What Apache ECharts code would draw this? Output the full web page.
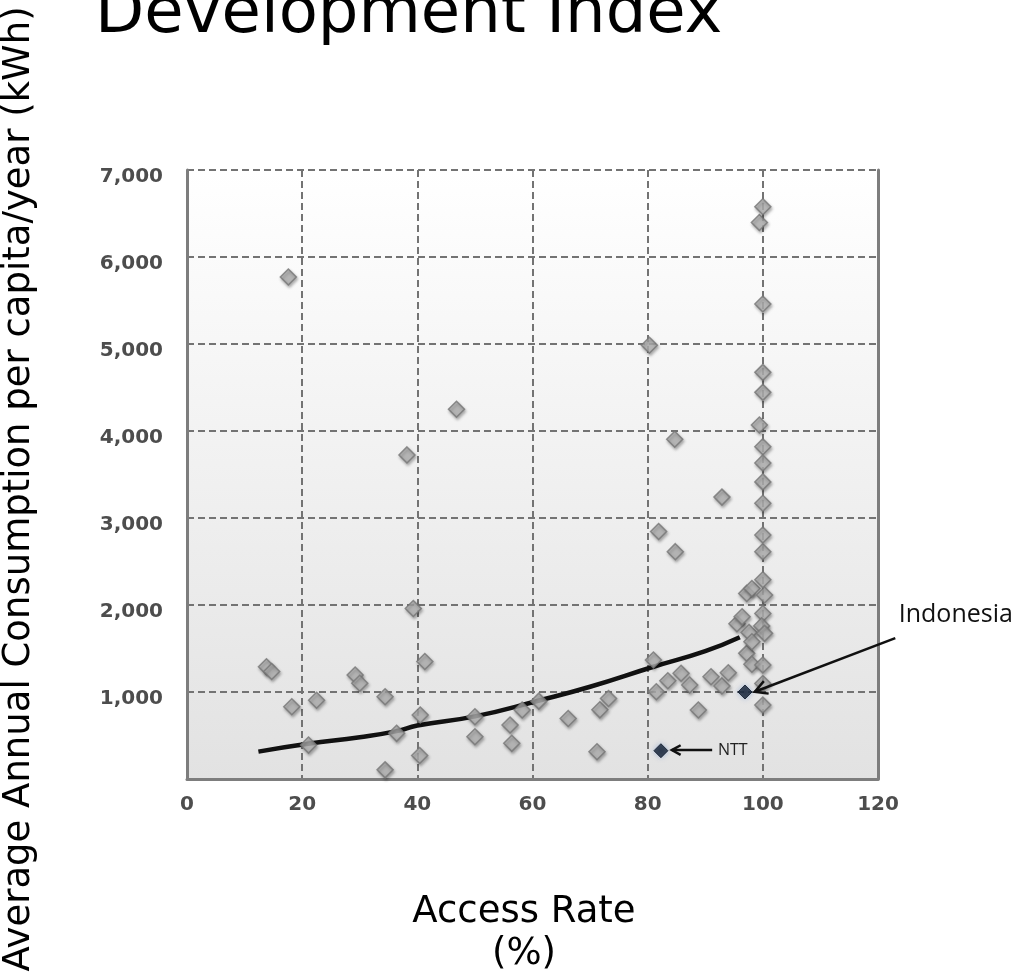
<!DOCTYPE html>
<html>
<head>
<meta charset="utf-8">
<script src="https://cdn.jsdelivr.net/npm/echarts@6/dist/echarts.min.js"></script>
<style>
html,body{margin:0;padding:0;background:#fff;}
#chart{width:1021px;height:977px;}
</style>
</head>
<body>
<div id="chart"></div>
<script>
// ---- data ----
const titleText = 'Development Index';
const xAxisTitle = 'Access Rate\n(%)';
const yAxisTitle = 'Average Annual Consumption per capita/year (kWh)';
const xTickLabels = ['0', '20', '40', '60', '80', '100', '120'];
const yTickLabels = ['', '1,000', '2,000', '3,000', '4,000', '5,000', '6,000', '7,000'];

// countries: [access rate %, kWh per capita per year]
const countryPoints = [
  [13.8,1290],[14.7,1235],[17.6,5770],[18.2,830],[21.1,390],[22.5,905],
  [29.2,1195],[30,1100],[34.4,945],[34.4,105],[36.4,525],[38.2,3725],
  [39.3,1960],[40.5,735],[40.4,270],[41.3,1350],[46.8,4250],[50,715],
  [50,485],[56.1,620],[56.4,410],[58.2,793],[61.1,895],[66.2,695],
  [71.2,313],[71.7,795],[73.2,925],[80.3,4985],[81.9,2845],[81,1368],
  [81.5,1003],[83.5,1130],[84.7,3905],[84.8,2613],[85.8,1215],[87.3,1080],
  [88.8,793],[91,1176],[92.9,3240],[92.9,1070],[94,1222],[95.5,1785],
  [96.4,1864],[97.2,1444],[97.2,2133],[97.6,1685],[98.1,2190],[98.1,1578],
  [98.1,1320],[99.4,6397],[99.4,4069],[100,6578],[100,5460],[100,4674],
  [100,4444],[100,3820],[100,3633],[100,3415],[100,3170],[100,2805],
  [100,2613],[100,2290],[100.3,2115],[100,1903],[99.8,1760],[100.3,1674],
  [100,1310],[100,1098],[100,850]
];
const highlightNames = ['NTT', 'Indonesia'];
const highlightPoints = [[82.3,325],[96.9,1000]];

// trend curve
const trendPoints = [
  [12.4,315],[21,405],[30,480],[36.4,550],[40,615],[50,720],[61,900],
  [70,1060],[81,1290],[90,1470],[96,1630]
];

// annotation anchors in data space: [textX, textY, arrowFromX, arrowFromY, arrowToX, arrowToY]
const indonesiaNote = [123.6, 1780, 123.0, 1620, 98.6, 1003];
const nttNote = [92.2, 333, 91.2, 333, 84.2, 333];

// ---- chart ----
const chart = echarts.init(document.getElementById('chart'), null, {renderer: 'canvas'});

const labelFont = {fontFamily: 'DejaVu Sans', fontWeight: 'bold', fontSize: 20, color: '#4d4d4d'};
const gridLine = {show: true, lineStyle: {color: '#737373', type: [7, 4], width: 2}};
const frameLine = {show: true, onZero: false, lineStyle: {color: '#7d7d7d', width: 3}};

const option = {
  animation: false,
  backgroundColor: '#ffffff',
  grid: {
    left: 187, top: 170, right: 143, bottom: 198,
    show: true, borderWidth: 0,
    backgroundColor: new echarts.graphic.LinearGradient(0, 0, 0, 1, [
      {offset: 0, color: '#ffffff'},
      {offset: 1, color: '#e2e2e2'}
    ])
  },
  xAxis: {
    type: 'value', min: 0, max: 120, interval: 20,
    axisLine: frameLine, axisTick: {show: false},
    splitLine: gridLine,
    axisLabel: Object.assign({margin: 16, formatter: (v, i) => xTickLabels[i]}, labelFont)
  },
  yAxis: [{
    type: 'value', min: 0, max: 7000, interval: 1000,
    axisLine: frameLine, axisTick: {show: false},
    splitLine: gridLine,
    axisLabel: Object.assign({margin: 24, verticalAlign: 'top', lineHeight: 14, formatter: (v, i) => yTickLabels[i]}, labelFont)
  }, {
    type: 'value', min: 0, max: 7000, interval: 1000, position: 'right',
    axisLine: frameLine, axisTick: {show: false}, splitLine: {show: false}, axisLabel: {show: false}
  }],
  series: [
    {
      type: 'line', data: trendPoints, smooth: true, symbol: 'none', z: 2,
      lineStyle: {color: '#111111', width: 4.5}
    },
    {
      type: 'scatter', data: countryPoints, symbol: 'diamond', symbolSize: 16, z: 3,
      itemStyle: {
        color: '#b5b5b5', borderColor: '#767676', borderWidth: 1.5,
        shadowColor: 'rgba(0,0,0,0.35)', shadowBlur: 3, shadowOffsetX: 1, shadowOffsetY: 2
      }
    },
    {
      type: 'scatter', data: highlightPoints, symbol: 'diamond', symbolSize: 14, z: 4,
      itemStyle: {
        color: '#0b1628', borderColor: '#0b1628', borderWidth: 1,
        shadowColor: 'rgba(120,150,200,0.7)', shadowBlur: 5
      }
    }
  ]
};
chart.setOption(option);

function px(x, y) { return chart.convertToPixel({gridIndex: 0}, [x, y]); }
function arrow(note, width, head) {
  const a = px(note[2], note[3]);
  const b = px(note[4], note[5]);
  const ang = Math.atan2(b[1] - a[1], b[0] - a[0]);
  const h1 = [b[0] - head * Math.cos(ang - 0.5), b[1] - head * Math.sin(ang - 0.5)];
  const h2 = [b[0] - head * Math.cos(ang + 0.5), b[1] - head * Math.sin(ang + 0.5)];
  return [
    {type: 'line', z: 10, shape: {x1: a[0], y1: a[1], x2: b[0], y2: b[1]}, style: {stroke: '#111', lineWidth: width}},
    {type: 'polyline', z: 10, shape: {points: [h1, b, h2]}, style: {stroke: '#111', lineWidth: width, fill: null}}
  ];
}
const indoText = px(indonesiaNote[0], indonesiaNote[1]);
const nttText = px(nttNote[0], nttNote[1]);

chart.setOption({
  graphic: [
    {type: 'text', x: 95, y: 15, z: 10, style: {text: titleText, font: '64px "DejaVu Sans"', fill: '#000', textVerticalAlign: 'middle'}},
    {type: 'text', x: 19, y: 489, rotation: Math.PI / 2, z: 10, style: {text: yAxisTitle, font: '37px "DejaVu Sans"', fill: '#000', textAlign: 'center', textVerticalAlign: 'middle'}},
    {type: 'text', x: 524, y: 933, z: 10, style: {text: xAxisTitle, font: '37px "DejaVu Sans"', fill: '#000', textAlign: 'center', textVerticalAlign: 'middle', lineHeight: 42}},
    {type: 'text', x: indoText[0], y: indoText[1] + 3, z: 10, style: {text: highlightNames[1], font: '25px "Open Sans"', fill: '#111', textVerticalAlign: 'bottom'}},
    {type: 'text', x: nttText[0], y: nttText[1], z: 10, style: {text: highlightNames[0], font: '16px "Open Sans"', fill: '#222', textVerticalAlign: 'middle'}}
  ].concat(arrow(indonesiaNote, 2.5, 14)).concat(arrow(nttNote, 2.5, 10))
});
</script>
</body>
</html>
